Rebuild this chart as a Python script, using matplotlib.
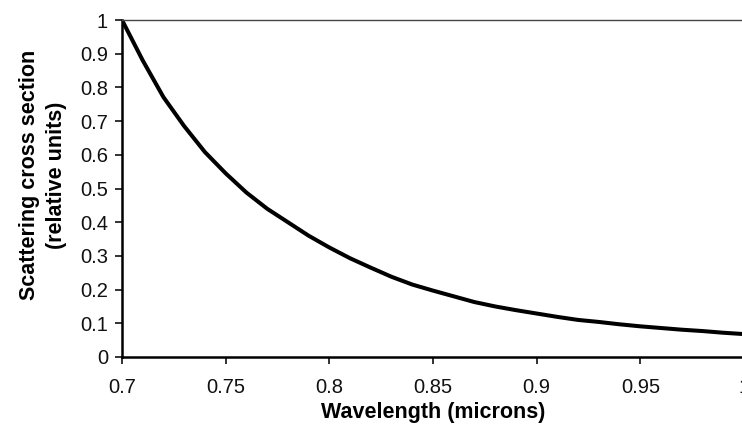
import numpy as np
import matplotlib.pyplot as plt

plt.rcParams['font.family'] = ['Liberation Sans', 'DejaVu Sans']

# wavelength (microns) and relative scattering cross section
wavelength = [0.70, 0.71, 0.72, 0.73, 0.74, 0.75, 0.76, 0.77, 0.78, 0.79,
              0.80, 0.81, 0.82, 0.83, 0.84, 0.85, 0.86, 0.87, 0.88, 0.89,
              0.90, 0.91, 0.92, 0.93, 0.94, 0.95, 0.96, 0.97, 0.98, 0.99, 1.00]
cross_section = [1.0, 0.88, 0.771, 0.685, 0.608, 0.545, 0.488, 0.44, 0.40, 0.36,
                 0.325, 0.293, 0.265, 0.238, 0.215, 0.197, 0.18, 0.163, 0.15, 0.139,
                 0.129, 0.119, 0.11, 0.104, 0.097, 0.091, 0.086, 0.081, 0.077, 0.072, 0.068]

x_ticks = [0.7, 0.75, 0.8, 0.85, 0.9, 0.95, 1.0]
x_tick_labels = ["0.7", "0.75", "0.8", "0.85", "0.9", "0.95", "1"]
y_ticks = [0, 0.1, 0.2, 0.3, 0.4, 0.5, 0.6, 0.7, 0.8, 0.9, 1.0]
y_tick_labels = ["0", "0.1", "0.2", "0.3", "0.4", "0.5", "0.6", "0.7", "0.8", "0.9", "1"]

fig = plt.figure(figsize=(7.42, 4.37), dpi=100)
ax = fig.add_axes([122 / 742, 1 - 357 / 437, 622 / 742, 337 / 437])

ax.plot(wavelength, cross_section, color="black", linewidth=2.9, solid_joinstyle="miter")

ax.set_xlim(0.7, 1.0)
ax.set_ylim(0, 1.0)
ax.set_xticks(x_ticks)
ax.set_xticklabels(x_tick_labels)
ax.set_yticks(y_ticks)
ax.set_yticklabels(y_tick_labels)
ax.tick_params(direction="out", length=5, width=1.2, labelsize=14.5,
               colors="#111111")
ax.tick_params(axis="x", pad=10)
ax.tick_params(axis="y", pad=5)

ax.spines["left"].set_linewidth(1.8)
ax.spines["bottom"].set_linewidth(1.8)
ax.spines["top"].set_linewidth(1.0)
ax.spines["top"].set_color("#444444")
ax.spines["right"].set_visible(False)

ax.set_xlabel("Wavelength (microns)", fontsize=15.5, fontweight="bold")
ax.xaxis.set_label_coords(0.5, -0.135)
ax.set_ylabel("Scattering cross section\n(relative units)", fontsize=15.5,
              fontweight="bold", linespacing=1.4)
ax.yaxis.set_label_coords(-0.088, 0.54)

fig.savefig("out.png", dpi=100)
